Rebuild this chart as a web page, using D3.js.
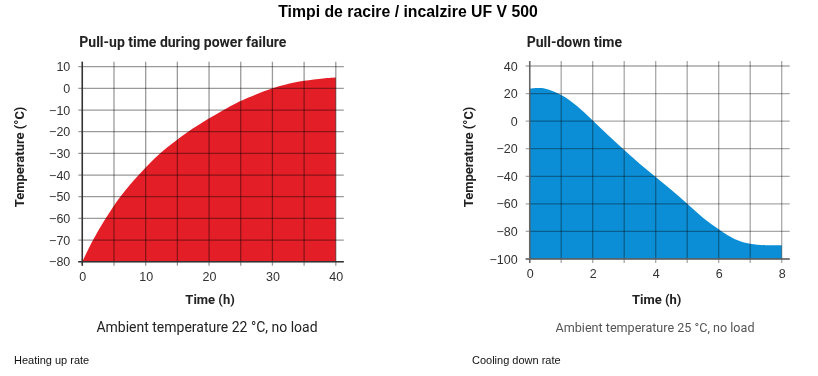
<!DOCTYPE html>
<html>
<head>
<meta charset="utf-8">
<script src="https://cdn.jsdelivr.net/npm/d3@7"></script>
<style>
  body { margin: 0; background: #fff; }
  svg { display: block; }
  .grid line { mix-blend-mode: multiply; }
</style>
</head>
<body>
<svg id="chart" width="818" height="376"></svg>
<script>
// Heating up (power failure) - left panel
var heatTime = [0, 1.7, 3.7, 6, 8.9, 12.3, 16.7, 22.3, 25, 30, 32, 35, 38, 40];
var heatTemp = [-80, -70, -60, -50, -40, -30, -20, -10, -5.8, 0, 1.7, 3.5, 4.6, 5];
var heatXTicks = [0, 10, 20, 30, 40];
var heatYTicks = [10, 0, -10, -20, -30, -40, -50, -60, -70, -80];

// Cooling down - right panel
var coolTime = [0, 0.25, 0.5, 1, 1.5, 2, 2.5, 3, 3.5, 4, 4.5, 5, 5.5, 6, 6.5, 7, 7.5, 8];
var coolTemp = [23.5, 24, 23.5, 19, 11, 0.5, -10.5, -21, -31, -40.5, -50, -60, -70, -78.5, -85.5, -89, -90, -90];
var coolXTicks = [0, 2, 4, 6, 8];
var coolYTicks = [40, 20, 0, -20, -40, -60, -80, -100];

var svg = d3.select("#chart");

svg.append("text")
  .attr("x", 408).attr("y", 17)
  .attr("text-anchor", "middle")
  .style("font-family", "Liberation Sans, Arial, sans-serif")
  .style("font-weight", "bold")
  .style("font-size", "15.8px")
  .text("Timpi de racire / incalzire UF V 500");

var drawPanel = function(opt)
{
  var g = svg.append("g");
  var x = d3.scaleLinear().domain(opt.xDomain).range(opt.xRange);
  var y = d3.scaleLinear().domain(opt.yDomain).range(opt.yRange);
  var x0 = opt.xRange[0], x1 = opt.xRange[1];
  var yTop = opt.yRange[1], yBot = opt.yRange[0];

  var pts = opt.times.map(function(t, i) { return {t: t, v: opt.temps[i]}; });

  var area = d3.area()
    .x(function(d) { return x(d.t); })
    .y0(y(opt.yDomain[0]))
    .y1(function(d) { return y(d.v); })
    .curve(d3.curveCatmullRom.alpha(0.5));

  g.append("path")
    .datum(pts)
    .attr("d", area)
    .attr("fill", opt.color);

  // grid
  var grid = g.append("g").attr("class", "grid");
  grid.selectAll(".v")
    .data(d3.range(opt.xDomain[0], opt.xDomain[1] + 0.001, opt.xGridStep))
    .join("line")
      .attr("x1", function(d) { return x(d); })
      .attr("x2", function(d) { return x(d); })
      .attr("y1", yTop - 5)
      .attr("y2", yBot + 4)
      .attr("stroke", opt.gridColor)
      .attr("stroke-width", 1.3);
  grid.selectAll(".h")
    .data(opt.yTicks)
    .join("line")
      .attr("x1", x0 - 4)
      .attr("x2", x1 + 8)
      .attr("y1", function(d) { return y(d); })
      .attr("y2", function(d) { return y(d); })
      .attr("stroke", opt.gridColor)
      .attr("stroke-width", 1.3);

  // axis lines
  g.append("line")
    .attr("x1", x0).attr("x2", x0)
    .attr("y1", yTop - 5).attr("y2", yBot + 4)
    .attr("stroke", opt.axisColor).attr("stroke-width", 1.5);
  g.append("line")
    .attr("x1", x0 - 4).attr("x2", x1 + 8)
    .attr("y1", yBot).attr("y2", yBot)
    .attr("stroke", opt.axisColor).attr("stroke-width", 1.5);

  // tick labels
  var yAxis = g.append("g")
    .attr("transform", "translate(" + x0 + ",0)")
    .call(d3.axisLeft(y).tickValues(opt.yTicks).tickSize(0).tickPadding(12));
  var xAxis = g.append("g")
    .attr("transform", "translate(0," + yBot + ")")
    .call(d3.axisBottom(x).tickValues(opt.xTicks).tickSize(0).tickPadding(10));
  [yAxis, xAxis].forEach(function(a)
  {
    a.select(".domain").remove();
    a.selectAll("text")
      .style("font-family", "Liberation Sans, Arial, sans-serif")
      .style("font-size", "12.5px")
      .attr("fill", "#333");
  });

  var cx = (x0 + x1) / 2;

  g.append("text")
    .attr("x", x0 - 3).attr("y", 47)
    .style("font-family", "Roboto, sans-serif")
    .style("font-weight", "bold")
    .style("font-size", "14px")
    .attr("fill", "#222")
    .text(opt.title);

  g.append("text")
    .attr("transform", "translate(" + opt.yLabelX + ",157) rotate(-90)")
    .attr("text-anchor", "middle")
    .style("font-family", "Roboto, sans-serif")
    .style("font-weight", "bold")
    .style("font-size", "13px")
    .attr("fill", "#222")
    .text("Temperature (°C)");

  g.append("text")
    .attr("x", cx + 1).attr("y", 304)
    .attr("text-anchor", "middle")
    .style("font-family", "Roboto, sans-serif")
    .style("font-weight", "bold")
    .style("font-size", "13px")
    .attr("fill", "#222")
    .text("Time (h)");

  g.append("text")
    .attr("x", opt.noteX).attr("y", 332)
    .attr("text-anchor", "middle")
    .style("font-family", "Roboto, sans-serif")
    .style("font-size", opt.noteSize)
    .attr("fill", opt.noteColor)
    .text(opt.note);

  g.append("text")
    .attr("x", opt.captionX).attr("y", 364)
    .style("font-family", "Liberation Sans, Arial, sans-serif")
    .style("font-size", "11px")
    .attr("fill", "#111")
    .text(opt.caption);
}

drawPanel({
  times: heatTime, temps: heatTemp,
  xDomain: [0, 40], xRange: [82.3, 335.8],
  yDomain: [-80, 10], yRange: [261.7, 66.7],
  xGridStep: 5, xTicks: heatXTicks, yTicks: heatYTicks,
  color: "#e41e26", gridColor: "#9a9a9a", axisColor: "#333",
  title: "Pull-up time during power failure",
  yLabelX: 24,
  note: "Ambient temperature 22 °C, no load", noteX: 207, noteColor: "#222", noteSize: "14px",
  caption: "Heating up rate", captionX: 14
});

drawPanel({
  times: coolTime, temps: coolTemp,
  xDomain: [0, 8], xRange: [529.7, 781.7],
  yDomain: [-100, 40], yRange: [259, 66],
  xGridStep: 1, xTicks: coolXTicks, yTicks: coolYTicks,
  color: "#0b8ed6", gridColor: "#a8a8a8", axisColor: "#666",
  title: "Pull-down time",
  yLabelX: 473,
  note: "Ambient temperature 25 °C, no load", noteX: 655, noteColor: "#555", noteSize: "12.6px",
  caption: "Cooling down rate", captionX: 472
});
</script>
</body>
</html>
